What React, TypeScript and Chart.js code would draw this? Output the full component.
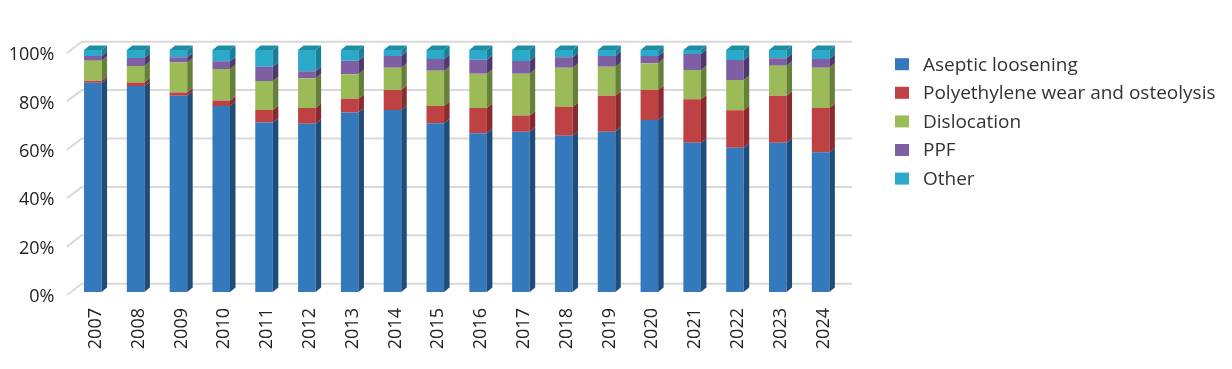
import { useEffect, useRef } from 'react';
import { Chart, registerables } from 'chart.js';

Chart.register(...registerables);

const years = ['2007', '2008', '2009', '2010', '2011', '2012', '2013', '2014', '2015', '2016', '2017', '2018', '2019', '2020', '2021', '2022', '2023', '2024'];
const aseptic = [86.5, 85.1, 81.1, 76.9, 70.0, 69.5, 74.2, 75.2, 69.7, 65.6, 66.2, 64.6, 66.2, 71.1, 61.7, 59.6, 61.7, 57.7];
const polyWear = [0.8, 1.5, 1.3, 2.2, 5.2, 6.5, 5.7, 8.3, 7.2, 10.4, 6.7, 11.8, 14.9, 12.4, 17.9, 15.5, 19.4, 18.3];
const dislocation = [8.3, 6.8, 12.4, 13.0, 12.0, 12.3, 10.1, 9.2, 14.5, 14.2, 17.3, 16.3, 12.0, 11.0, 12.1, 12.5, 12.4, 16.7];
const ppf = [1.9, 3.3, 2.2, 3.2, 5.9, 2.9, 5.6, 4.8, 4.9, 5.8, 5.3, 4.3, 4.4, 3.0, 6.6, 8.3, 3.1, 3.6];
const other = [2.5, 3.3, 3.0, 4.7, 6.9, 8.8, 4.4, 2.5, 3.7, 4.0, 4.5, 3.0, 2.5, 2.5, 1.7, 4.1, 3.4, 3.7];

const seriesNames = ['Aseptic loosening', 'Polyethylene wear and osteolysis', 'Dislocation', 'PPF', 'Other'];
const seriesValues = [aseptic, polyWear, dislocation, ppf, other];
const frontColors = ['#3579bd', '#be4144', '#9bbb59', '#7f5fa4', '#2aa9c8'];
const sideColors = ['#1f4d7a', '#8a2a2d', '#66803a', '#4f386e', '#1a7f98'];
const capColors = ['#2a6399', '#a33538', '#7f9c48', '#684d88', '#1f8da3'];

const yMin = 0;
const yMax = 100;
const yStep = 20;

export default function App() {
  const ref = useRef<HTMLCanvasElement>(null);

  useEffect(() => {
    if (!ref.current) return;
    const dx = 5.5;
    const dy = 4.5;

    const wallPlugin = {
      id: 'wall3d',
      beforeDatasetsDraw(chart: any) {
        const { ctx, chartArea, scales } = chart;
        const ys = scales.y;
        ctx.save();
        ctx.strokeStyle = '#d9d9d9';
        ctx.lineWidth = 2;
        for (const t of ys.ticks) {
          const py = ys.getPixelForValue(t.value);
          ctx.beginPath();
          ctx.moveTo(chartArea.left - 4.5, py + 3);
          ctx.lineTo(chartArea.left + 10.5, py - 8.3);
          ctx.lineTo(chartArea.right + 10, py - 8.3);
          ctx.stroke();
        }
        ctx.restore();
      },
      afterDatasetsDraw(chart: any) {
        const { ctx } = chart;
        const n = chart.data.datasets.length;
        ctx.save();
        for (let i = 0; i < n; i++) {
          const meta = chart.getDatasetMeta(i);
          meta.data.forEach((el: any) => {
            const p = el.getProps(['x', 'y', 'base', 'width'], true);
            const top = Math.min(p.y, p.base);
            const bottom = Math.max(p.y, p.base);
            const xl = p.x - p.width / 2;
            const xr = p.x + p.width / 2;
            ctx.fillStyle = sideColors[i];
            ctx.beginPath();
            ctx.moveTo(xr, top);
            ctx.lineTo(xr + dx, top - dy);
            ctx.lineTo(xr + dx, bottom - dy);
            ctx.lineTo(xr, bottom);
            ctx.closePath();
            ctx.fill();
            if (i === n - 1) {
              ctx.fillStyle = capColors[i];
              ctx.beginPath();
              ctx.moveTo(xl, top);
              ctx.lineTo(xl + dx, top - dy);
              ctx.lineTo(xr + dx, top - dy);
              ctx.lineTo(xr, top);
              ctx.closePath();
              ctx.fill();
            }
          });
        }
        ctx.restore();
      },
    };

    const legendPlugin = {
      id: 'sideLegend',
      afterDraw(chart: any) {
        const { ctx } = chart;
        ctx.save();
        ctx.font = '19px "Open Sans"';
        ctx.textBaseline = 'middle';
        ctx.textAlign = 'left';
        chart.data.datasets.forEach((ds: any, i: number) => {
          const cy = 64.2 + i * 28.6;
          ctx.fillStyle = ds.backgroundColor;
          ctx.fillRect(895, cy - 6, 14, 12);
          ctx.fillStyle = '#333333';
          ctx.fillText(ds.label, 923, cy + 1);
        });
        ctx.restore();
      },
    };

    const chart = new Chart(ref.current, {
      type: 'bar',
      data: {
        labels: years,
        datasets: seriesNames.map((name, i) => ({
          label: name,
          data: seriesValues[i],
          backgroundColor: frontColors[i],
          borderWidth: 0,
          barPercentage: 0.41,
          categoryPercentage: 1,
        })),
      },
      options: {
        animation: false,
        responsive: true,
        maintainAspectRatio: false,
        events: [],
        layout: { padding: { top: 50, right: 390, left: 0, bottom: 0 } },
        plugins: {
          legend: { display: false },
          tooltip: { enabled: false },
        },
        scales: {
          x: {
            stacked: true,
            grid: { display: false, drawTicks: false },
            border: { display: false },
            ticks: {
              minRotation: 90,
              maxRotation: 90,
              padding: 16,
              labelOffset: 3,
              color: '#222222',
              font: { family: 'Open Sans', size: 18 },
            },
            afterFit: (s: any) => { s.height = 77; },
          },
          y: {
            stacked: true,
            min: yMin,
            max: yMax,
            grid: { display: false, drawTicks: false },
            border: { display: false },
            ticks: {
              stepSize: yStep,
              padding: 17,
              labelOffset: 5,
              color: '#222222',
              font: { family: 'Open Sans', size: 18 },
              callback: (v: any) => v + '%',
            },
            afterFit: (s: any) => { s.width = 71.4; },
          },
        },
      },
      plugins: [wallPlugin, legendPlugin],
    });
    return () => chart.destroy();
  }, []);

  return (
    <div style={{ position: 'absolute', left: 0, top: 0, width: 1232, height: 369, background: '#ffffff' }}>
      <canvas ref={ref} />
    </div>
  );
}
